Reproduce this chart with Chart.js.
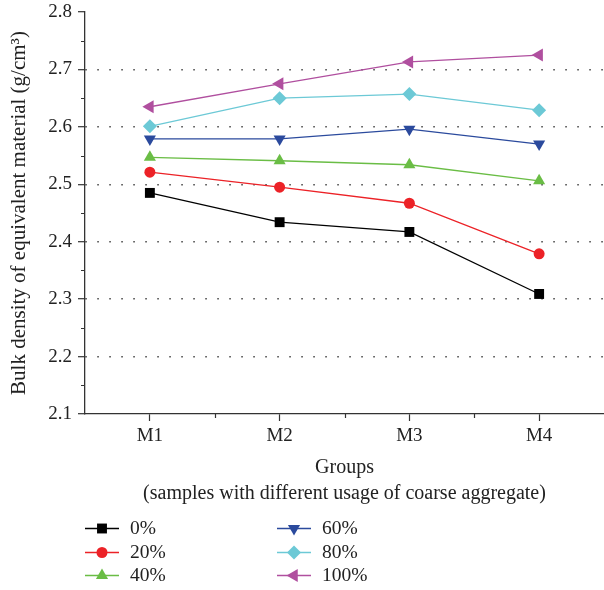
<!DOCTYPE html>
<html>
<head>
<meta charset="utf-8">
<script src="https://cdn.jsdelivr.net/npm/chart.js@4/dist/chart.umd.min.js"></script>
<style>
  html, body { margin: 0; padding: 0; background: #fff; overflow: hidden; }
  canvas { display: block; }
</style>
</head>
<body>
<canvas id="chart" width="604" height="590"></canvas>
<script>
// Data
var groups = ['M1', 'M2', 'M3', 'M4'];
var seriesNames = ['0%', '20%', '40%', '60%', '80%', '100%'];
var v0 = [2.485, 2.434, 2.417, 2.309];
var v20 = [2.521, 2.495, 2.467, 2.379];
var v40 = [2.547, 2.541, 2.534, 2.506];
var v60 = [2.579, 2.579, 2.596, 2.570];
var v80 = [2.601, 2.650, 2.657, 2.629];
var v100 = [2.635, 2.675, 2.713, 2.725];
var yTicks = [2.1, 2.2, 2.3, 2.4, 2.5, 2.6, 2.7, 2.8];

var seriesValues = [v0, v20, v40, v60, v80, v100];
var colors = ['#000000', '#ec2227', '#6abd45', '#2b4a9d', '#6cc9d6', '#b04f9f'];
var styles = [
  { pointStyle: 'rect', radius: 7, rotation: 0 },
  { pointStyle: 'circle', radius: 5.5, rotation: 0 },
  { pointStyle: 'triangle', radius: 7, rotation: 0 },
  { pointStyle: 'triangle', radius: 7, rotation: 180 },
  { pointStyle: 'rectRot', radius: 7, rotation: 0 },
  { pointStyle: 'triangle', radius: 7.5, rotation: 270 }
];

var FONT = '"Liberation Serif", "DejaVu Serif", serif';

var datasets = seriesValues.map(function (vals, i) {
  return {
    label: seriesNames[i],
    data: vals,
    borderColor: colors[i],
    backgroundColor: colors[i],
    borderWidth: 1.3,
    pointStyle: styles[i].pointStyle,
    pointRadius: styles[i].radius,
    pointRotation: styles[i].rotation,
    pointBorderWidth: 0,
    tension: 0,
    fill: false
  };
});

// minor ticks, x-axis title and the two-column legend
var extras = {
  id: 'extras',
  afterDraw: function (chart) {
    var ctx = chart.ctx;
    var xs = chart.scales.x, ys = chart.scales.y;
    var area = chart.chartArea;
    ctx.save();
    ctx.strokeStyle = '#333';
    ctx.lineWidth = 1.2;
    ctx.beginPath();
    for (var i = 0; i < yTicks.length - 1; i++) {
      var py = Math.round(ys.getPixelForValue((yTicks[i] + yTicks[i + 1]) / 2)) + 0.5;
      ctx.moveTo(area.left - 4, py);
      ctx.lineTo(area.left, py);
    }
    for (var j = 0; j < groups.length - 1; j++) {
      var px = Math.round((xs.getPixelForValue(j) + xs.getPixelForValue(j + 1)) / 2) + 0.5;
      ctx.moveTo(px, area.bottom);
      ctx.lineTo(px, area.bottom + 4);
    }
    ctx.stroke();

    // x title
    ctx.fillStyle = '#222';
    ctx.font = '20px ' + FONT;
    ctx.textAlign = 'center';
    ctx.textBaseline = 'middle';
    var cx = (area.left + area.right) / 2;
    ctx.fillText('Groups', cx, area.bottom + 54);
    ctx.fillText('(samples with different usage of coarse aggregate)', cx, area.bottom + 80);

    // legend
    var cols = [85, 277];
    var rows = [528, 552, 575];
    ctx.textAlign = 'left';
    ctx.font = '19.5px ' + FONT;
    for (var k = 0; k < seriesNames.length; k++) {
      var lx = cols[Math.floor(k / 3)];
      var ly = rows[k % 3];
      ctx.strokeStyle = colors[k];
      ctx.lineWidth = 1.3;
      ctx.beginPath();
      ctx.moveTo(lx, ly + 0.5);
      ctx.lineTo(lx + 34, ly + 0.5);
      ctx.stroke();
      ctx.fillStyle = colors[k];
      Chart.helpers.drawPoint(ctx, {
        pointStyle: styles[k].pointStyle,
        radius: styles[k].radius,
        rotation: styles[k].rotation,
        borderWidth: 0
      }, lx + 17, ly + 0.5);
      ctx.fillStyle = '#222';
      ctx.fillText(seriesNames[k], lx + 45, ly + 1);
    }
    ctx.restore();
  }
};

new Chart(document.getElementById('chart'), {
  type: 'line',
  data: { labels: groups, datasets: datasets },
  plugins: [extras],
  options: {
    responsive: false,
    animation: false,
    devicePixelRatio: 1,
    layout: { autoPadding: false, padding: { top: 12, right: 0, left: 0, bottom: 0 } },
    plugins: { legend: { display: false }, tooltip: { enabled: false } },
    scales: {
      x: {
        offset: true,
        afterFit: function (scale) {
          scale.height = 176;
          scale.paddingLeft = 0;
          scale.paddingRight = 0;
        },
        grid: { offset: false, drawOnChartArea: false, tickLength: 7, tickColor: '#333', tickWidth: 1.2 },
        border: { color: '#333', width: 1.3 },
        ticks: { color: '#222', font: { family: FONT, size: 19 }, padding: 4 }
      },
      y: {
        min: 2.1,
        max: 2.8,
        afterFit: function (scale) {
          scale.width = 85;
          scale.paddingTop = 0;
          scale.paddingBottom = 0;
        },
        afterBuildTicks: function (scale) {
          scale.ticks = yTicks.map(function (v) { return { value: v }; });
        },
        grid: {
          color: function (c) {
            var v = c.tick ? c.tick.value : 0;
            return (v > 2.15 && v < 2.75) ? '#444' : 'rgba(0,0,0,0)';
          },
          lineWidth: 1.4,
          tickLength: 7,
          tickColor: '#333',
          tickWidth: 1.2
        },
        border: { color: '#333', width: 1.3, dash: [1.5, 10.5] },
        ticks: {
          color: '#222',
          font: { family: FONT, size: 19 },
          padding: 6,
          callback: function (v) { return Number(v).toFixed(1); }
        },
        title: {
          display: true,
          text: 'Bulk density of equivalent material (g/cm³)',
          color: '#222',
          font: { family: FONT, size: 21 },
          padding: { top: 7, bottom: 0 }
        }
      }
    }
  }
});
</script>
</body>
</html>
